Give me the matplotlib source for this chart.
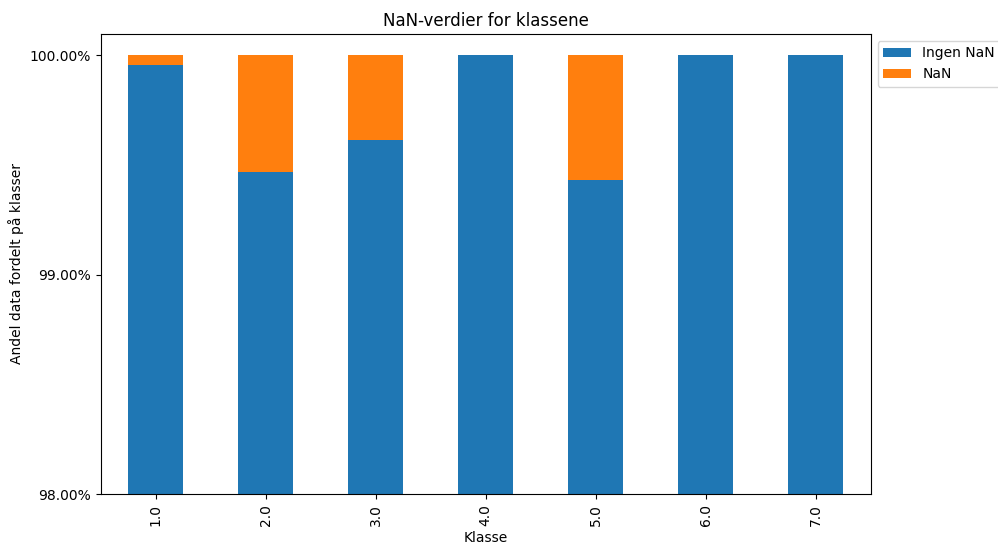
import matplotlib
matplotlib.use("Agg")
import matplotlib.pyplot as plt
import numpy as np
from matplotlib.ticker import PercentFormatter

categories = ["1.0", "2.0", "3.0", "4.0", "5.0", "6.0", "7.0"]
ingen_nan = [0.99955, 0.99469, 0.99614, 1.0, 0.99429, 1.0, 1.0]
nan_share = [1 - v for v in ingen_nan]

fig = plt.figure(figsize=(9.98, 5.46), dpi=100)
ax = fig.add_axes([0.101, 0.095, 0.7715, 0.843])

x = np.arange(len(categories))
ax.bar(x, ingen_nan, width=0.5, color="#1f77b4", label="Ingen NaN")
ax.bar(x, nan_share, width=0.5, bottom=ingen_nan, color="#ff7f0e", label="NaN")

ax.set_xlim(-0.5, len(categories) - 0.5)
ax.set_ylim(0.98, 1.00097)
ax.set_yticks([0.98, 0.99, 1.0])
ax.yaxis.set_major_formatter(PercentFormatter(xmax=1.0, decimals=2))
ax.set_xticks(x)
ax.set_xticklabels(categories, rotation=90)

ax.set_title("NaN-verdier for klassene")
ax.set_xlabel("Klasse")
ax.set_ylabel("Andel data fordelt på klasser")
ax.legend(loc="upper left", bbox_to_anchor=(1, 1))

fig.savefig("out.png", dpi=100)
